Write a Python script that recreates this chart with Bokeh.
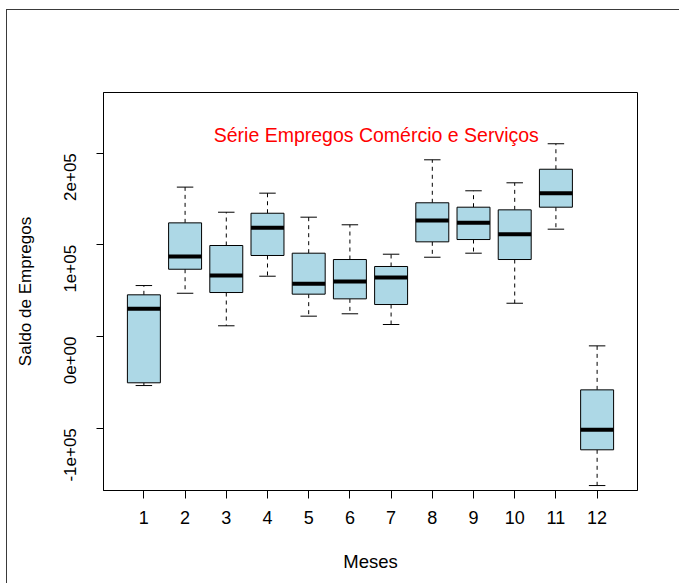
import math
from bokeh.plotting import figure
from bokeh.models import Range1d, FixedTicker, Label
from bokeh.embed import file_html
from bokeh.resources import INLINE

# ---- data ----
months = [1, 2, 3, 4, 5, 6, 7, 8, 9, 10, 11, 12]
month_labels = ["1", "2", "3", "4", "5", "6", "7", "8", "9", "10", "11", "12"]
upper_whisker = [55600, 163000, 135600, 156400, 130200, 121900, 89800, 192800, 159000, 167700, 210300, -10200]
q3 = [45500, 124000, 99300, 134500, 90900, 84000, 76400, 145900, 141100, 138200, 182500, -58200]
median = [30200, 87300, 66600, 118600, 57500, 60000, 64400, 126600, 124100, 111600, 156400, -101800]
q1 = [-50500, 73400, 48000, 88400, 46200, 41100, 34900, 103300, 105800, 84000, 141100, -123600]
lower_whisker = [-53500, 47200, 11700, 65800, 22200, 24800, 13100, 86500, 90900, 36300, 117100, -162600]
y_ticks = [-100000, 0, 100000, 200000]
y_tick_labels = ["-1e+05", "0e+00", "1e+05", "2e+05"]
title_text = "Série Empregos Comércio e Serviços"

FONT = "Liberation Sans"
BOXW = 0.8
CAPW = 0.4

p = figure(width=673, height=574,
           x_range=Range1d(0.02, 12.98), y_range=Range1d(-168000, 266230),
           output_backend="svg", toolbar_location=None,
           min_border_left=96, min_border_right=43, min_border_top=82, min_border_bottom=94,
           margin=(9, 0, 0, 6),
           styles={"border-left": "1px solid #3a3a3a", "border-top": "1px solid #3a3a3a"})

p.background_fill_color = "white"
p.border_fill_color = "white"
p.outline_line_color = "black"
p.outline_line_width = 1
p.xgrid.visible = False
p.ygrid.visible = False

# whiskers (dashed)
p.segment(x0=months, y0=q3, x1=months, y1=upper_whisker, line_color="black", line_width=1, line_dash="4 4")
p.segment(x0=months, y0=q1, x1=months, y1=lower_whisker, line_color="black", line_width=1, line_dash="4 4")
# caps
x_left_cap = [m - CAPW / 2 for m in months]
x_right_cap = [m + CAPW / 2 for m in months]
p.segment(x0=x_left_cap, y0=upper_whisker, x1=x_right_cap, y1=upper_whisker, line_color="black", line_width=1)
p.segment(x0=x_left_cap, y0=lower_whisker, x1=x_right_cap, y1=lower_whisker, line_color="black", line_width=1)
# boxes
p.vbar(x=months, width=BOXW, bottom=q1, top=q3, fill_color="#ADD8E6", line_color="black", line_width=1)
# medians
x_left_box = [m - BOXW / 2 for m in months]
x_right_box = [m + BOXW / 2 for m in months]
p.segment(x0=x_left_box, y0=median, x1=x_right_box, y1=median, line_color="black", line_width=4)

# annotation text
p.add_layout(Label(x=6.64, y=220400, text=title_text, text_color="red",
                   text_font=FONT, text_font_size="19.5px",
                   text_align="center", text_baseline="middle"))

# axes
p.xaxis.ticker = FixedTicker(ticks=months)
p.xaxis.major_label_overrides = {m: l for m, l in zip(months, month_labels)}
p.yaxis.ticker = FixedTicker(ticks=y_ticks)
p.yaxis.major_label_overrides = {t: l for t, l in zip(y_ticks, y_tick_labels)}
p.yaxis.major_label_orientation = math.pi / 2

for ax in (p.xaxis[0], p.yaxis[0]):
    ax.minor_tick_line_color = None
    ax.major_tick_in = 0
    ax.major_tick_out = 7
    ax.axis_line_color = "black"
    ax.major_tick_line_color = "black"
    ax.major_label_text_font = FONT
    ax.major_label_text_font_size = "17px"
    ax.major_label_text_color = "black"
    ax.axis_label_text_font = FONT
    ax.axis_label_text_font_size = "17px"
    ax.axis_label_text_font_style = "normal"
    ax.axis_label_text_color = "black"

p.xaxis.major_label_text_font_size = "18px"
p.xaxis.axis_label_text_font_size = "18.5px"
p.xaxis.axis_label = "Meses"
p.yaxis.axis_label = "Saldo de Empregos"
p.xaxis.major_tick_out = 8
p.xaxis.major_label_standoff = 12
p.xaxis.axis_label_standoff = 24
p.yaxis.major_label_standoff = 26
p.yaxis.axis_label_standoff = 21

open("out.html", "w").write(file_html(p, INLINE))
